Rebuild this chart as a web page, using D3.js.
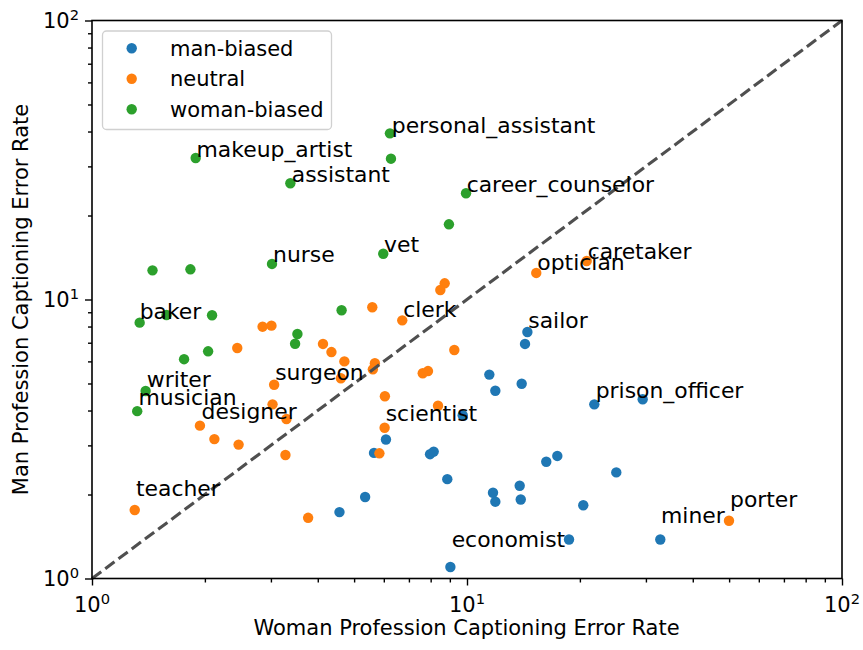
<!DOCTYPE html>
<html>
<head>
<meta charset="utf-8">
<script src="https://cdn.jsdelivr.net/npm/d3@7"></script>
<style>
  body { margin: 0; background: #fff; }
  svg { display: block; }
  text { font-family: "DejaVu Sans", sans-serif; fill: #000; }
</style>
</head>
<body>
<svg id="chart" width="863" height="650"></svg>
<script>
// ---- data (x = woman error rate, y = man error rate) ----
const manBiasedX = [14.49, 14.28, 11.47, 11.90, 13.99, 21.85, 29.41, 9.74, 6.08, 5.65, 7.97, 8.15, 8.86, 16.27, 17.41, 25.01, 11.73, 11.90, 13.82, 13.91, 20.42, 18.71, 32.77, 9.03, 5.35, 4.57];
const manBiasedY = [7.65, 6.93, 5.38, 4.71, 4.99, 4.21, 4.39, 3.85, 3.15, 2.82, 2.79, 2.85, 2.27, 2.62, 2.75, 2.40, 2.03, 1.885, 2.15, 1.92, 1.83, 1.38, 1.38, 1.10, 1.96, 1.73];

const neutralX = [20.85, 15.30, 8.72, 8.49, 9.25, 7.87, 7.62, 8.37, 5.59, 6.72, 2.85, 3.01, 2.44, 4.13, 4.35, 4.71, 5.68, 5.61, 4.61, 3.06, 6.04, 3.03, 3.30, 1.94, 2.12, 2.46, 3.28, 6.03, 5.84, 3.77, 1.30, 49.96];
const neutralY = [13.74, 12.45, 11.43, 10.82, 6.59, 5.54, 5.44, 4.16, 9.38, 8.42, 7.99, 8.06, 6.70, 6.93, 6.48, 6.00, 5.91, 5.62, 5.22, 4.95, 4.50, 4.21, 3.73, 3.53, 3.16, 3.02, 2.77, 3.47, 2.81, 1.65, 1.76, 1.61];

const womanBiasedX = [6.23, 6.27, 1.89, 3.38, 9.94, 8.95, 3.02, 5.98, 1.45, 1.83, 1.34, 1.58, 2.09, 4.63, 3.53, 3.48, 1.76, 2.04, 1.39, 1.32];
const womanBiasedY = [39.4, 31.97, 32.15, 26.10, 24.03, 18.60, 13.41, 14.59, 12.72, 12.83, 8.26, 8.80, 8.78, 9.15, 7.52, 6.94, 6.11, 6.52, 4.70, 3.98];

const labelNames = ["personal_assistant", "makeup_artist", "assistant", "career_counselor", "nurse", "vet", "caretaker", "optician", "clerk", "baker", "sailor", "surgeon", "writer", "prison_officer", "musician", "designer", "scientist", "teacher", "porter", "miner", "economist"];
const labelX = [6.30, 1.90, 3.41, 9.98, 3.04, 6.01, 20.98, 15.40, 6.76, 1.34, 14.57, 3.08, 1.40, 22.04, 1.33, 1.96, 6.07, 1.31, 50.27, 32.91, 9.10];
const labelY = [39.4, 32.5, 26.4, 24.3, 13.66, 14.84, 13.97, 12.76, 8.68, 8.51, 7.88, 5.15, 4.87, 4.42, 4.19, 3.73, 3.68, 1.98, 1.81, 1.585, 1.30];

const seriesNames = ["man-biased", "neutral", "woman-biased"];
const tickValues = [1, 10, 100];
const tickExponents = ["0", "1", "2"];
const xTitle = "Woman Profession Captioning Error Rate";
const yTitle = "Man Profession Captioning Error Rate";

(function () {
// ---- layout ----
const colors = ["#1f77b4", "#ff7f0e", "#2ca02c"];
const pL = 92, pR = 842, pT = 20.5, pB = 578.5;
const FS = 21;

const svg = d3.select("#chart");
const x = d3.scaleLog().domain([1, 100]).range([pL, pR]);
const y = d3.scaleLog().domain([1, 100]).range([pB, pT]);

const plot = svg.append("g");

// scatter
const series = [
  { xs: manBiasedX, ys: manBiasedY, color: colors[0] },
  { xs: neutralX, ys: neutralY, color: colors[1] },
  { xs: womanBiasedX, ys: womanBiasedY, color: colors[2] }
];
series.forEach(s => {
  plot.append("g").selectAll("circle")
    .data(s.xs.map((v, i) => [v, s.ys[i]]))
    .join("circle")
    .attr("cx", d => x(d[0]))
    .attr("cy", d => y(d[1]))
    .attr("r", 5.2)
    .attr("fill", s.color);
});

// diagonal
plot.append("line")
  .attr("x1", x(1)).attr("y1", y(1))
  .attr("x2", x(100)).attr("y2", y(100))
  .attr("stroke", "#4f4f4f")
  .attr("stroke-width", 3.1)
  .attr("stroke-dasharray", "11.5,5");

// labels
plot.append("g").selectAll("text")
  .data(labelNames.map((n, i) => ({ n, x: labelX[i], y: labelY[i] })))
  .join("text")
  .attr("x", d => x(d.x))
  .attr("y", d => y(d.y))
  .attr("font-size", 21.9)
  .text(d => d.n);

// axes
const minorTicks = [];
[1, 10].forEach(dec => { for (let k = 2; k <= 9; k++) minorTicks.push(dec * k); });

const xAxis = svg.append("g").attr("transform", `translate(0,${pB})`)
  .call(d3.axisBottom(x).tickValues(tickValues).tickSize(7).tickSizeOuter(0).tickFormat(""));
const xMinor = svg.append("g").attr("transform", `translate(0,${pB})`)
  .call(d3.axisBottom(x).tickValues(minorTicks).tickSize(4).tickSizeOuter(0).tickFormat(""));
const yAxis = svg.append("g").attr("transform", `translate(${pL},0)`)
  .call(d3.axisLeft(y).tickValues(tickValues).tickSize(7).tickSizeOuter(0).tickFormat(""));
const yMinor = svg.append("g").attr("transform", `translate(${pL},0)`)
  .call(d3.axisLeft(y).tickValues(minorTicks).tickSize(4).tickSizeOuter(0).tickFormat(""));
[xAxis, xMinor, yAxis, yMinor].forEach(g => {
  g.select(".domain").remove();
  g.selectAll(".tick line").attr("stroke", "#000").attr("stroke-width", 1.4);
});

// spines
svg.append("rect")
  .attr("x", pL).attr("y", pT)
  .attr("width", pR - pL).attr("height", pB - pT)
  .attr("fill", "none").attr("stroke", "#000").attr("stroke-width", 1.6);

// tick labels
tickValues.forEach((v, i) => {
  const tx = svg.append("text")
    .attr("x", x(v)).attr("y", pB + 33.5)
    .attr("text-anchor", "middle")
    .attr("font-size", FS);
  tx.append("tspan").text("10");
  tx.append("tspan").attr("dy", -8.5).attr("font-size", 14.7).text(tickExponents[i]);

  const ty = svg.append("text")
    .attr("x", pL - 13).attr("y", y(v) + 7.5)
    .attr("text-anchor", "end")
    .attr("font-size", FS);
  ty.append("tspan").text("10");
  ty.append("tspan").attr("dy", -8.5).attr("font-size", 14.7).text(tickExponents[i]);
});

// axis titles
svg.append("text")
  .attr("x", 466.5).attr("y", 634.5)
  .attr("text-anchor", "middle")
  .attr("font-size", FS)
  .text(xTitle);
svg.append("text")
  .attr("transform", `translate(27.5,${(pT + pB) / 2}) rotate(-90)`)
  .attr("text-anchor", "middle")
  .attr("font-size", FS)
  .text(yTitle);

// legend
const lg = svg.append("g");
lg.append("rect")
  .attr("x", 102.5).attr("y", 31).attr("width", 229).attr("height", 98.5)
  .attr("rx", 4).attr("ry", 4)
  .attr("fill", "#fff").attr("fill-opacity", 0.8)
  .attr("stroke", "#d0d0d0").attr("stroke-width", 1.3);
seriesNames.forEach((n, i) => {
  const cy = 48.3 + i * 30.5;
  lg.append("circle").attr("cx", 131.7).attr("cy", cy).attr("r", 5.2).attr("fill", colors[i]);
  lg.append("text").attr("x", 170).attr("y", cy + 7.5).attr("font-size", FS).text(n);
});
})();
</script>
</body>
</html>
